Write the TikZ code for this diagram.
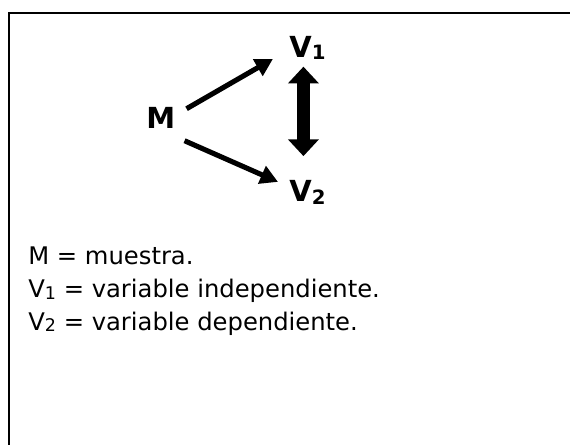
\documentclass[tikz,border=0pt]{standalone}
\usepackage{fontspec}
\setmainfont{DejaVu Sans}
\usetikzlibrary{arrows.meta}

\begin{document}
\begin{tikzpicture}[x=0.02cm, y=-0.02cm,
	label/.style={inner sep=0, anchor=base west, font=\fontsize{16.5}{19}\selectfont\bfseries},
	legend/.style={inner sep=0, anchor=base west, font=\fontsize{13.8}{18}\selectfont},
	arrow/.style={line width=2.9pt, -{Triangle[length=10pt, width=10.5pt]}},
	bigarrow/.style={line width=7.2pt, {Triangle[length=9.5pt, width=17pt]}-{Triangle[length=9.5pt, width=17pt]}}]
	
	% \sub#scale#digit
	\def\sub#1#2{\raisebox{-0.08em}{\scalebox{#1}{#2}}}
	
	\useasboundingbox (0, 0) rectangle (570, 445);
	\draw[line width=1.15pt, line cap=rect] (9.3, 445) -- (9.3, 13) -- (570, 13);
	
	% diagram
	\node[label] (M) at (146, 128.3) {M};
	\node[label] (V1) at (289, 57.3) {V\sub{.68}{1}};
	\node[label] (V2) at (289, 202) {V\sub{.68}{2}};
	\draw[arrow] ([shift={(11, -9)}]M.east) -- ([shift={(-16, 11)}]V1.west);
	\draw[arrow] ([shift={(9, 23)}]M.east) -- ([shift={(-11, -10.7)}]V2.west);
	\draw[bigarrow] ([shift={(-4, 6.7)}]V1.south) -- ([shift={(-4, -24.4)}]V2.north);
	
	% legend
	\node[legend] (l1) at (28, 265) {M = muestra.};
	\node[legend] (l2) at (28, 297.7) {V\sub{.72}{1} = variable independiente.};
	\node[legend] (l3) at (28, 330) {V\sub{.72}{2} = variable dependiente.};
\end{tikzpicture}
\end{document}
